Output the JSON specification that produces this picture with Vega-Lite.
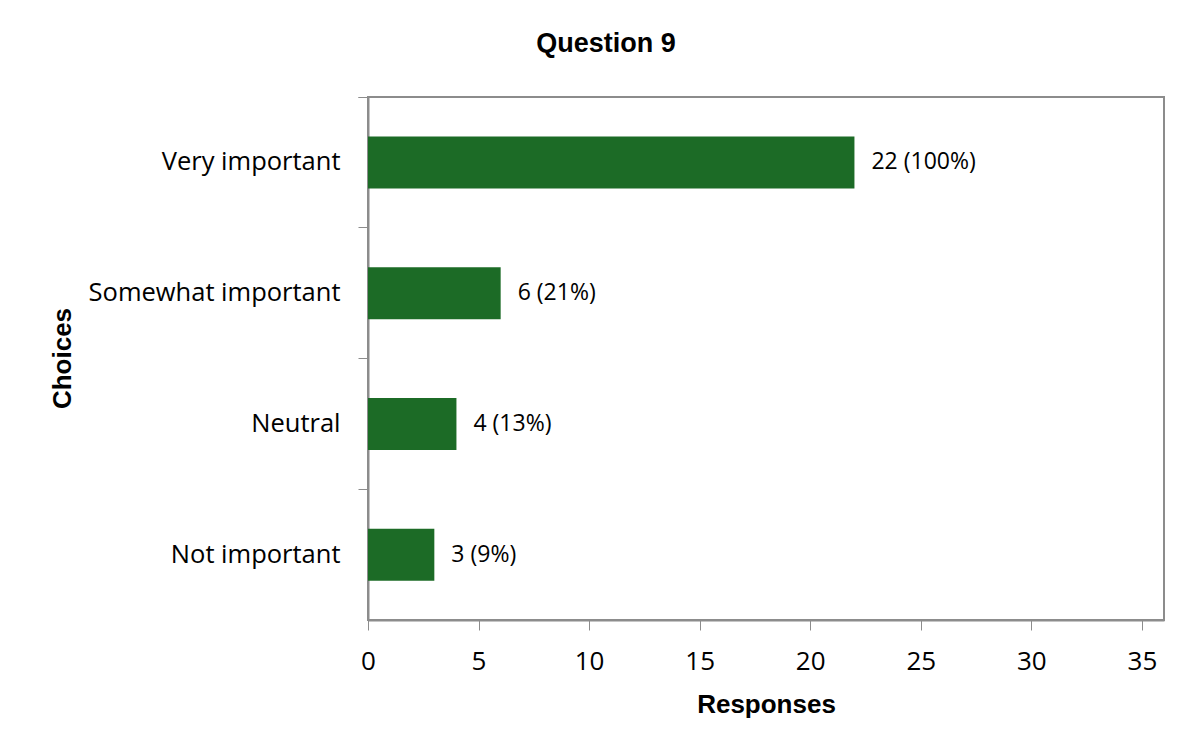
{
  "$schema": "https://vega.github.io/schema/vega-lite/v6.json",
  "width": 796,
  "height": 523,
  "autosize": {"type": "none"},
  "padding": {"left": 368, "top": 97, "right": 37, "bottom": 128},
  "background": "white",
  "title": {
    "text": "Question 9",
    "font": "Liberation Sans",
    "fontSize": 27,
    "fontWeight": "bold",
    "color": "#000000",
    "anchor": "middle",
    "frame": "group",
    "dx": -160,
    "offset": 27
  },
  "config": {
    "view": {"stroke": "#8c8c8c", "strokeWidth": 2},
    "axis": {"grid": false}
  },
  "data": {
    "values": [
      {"choice": "Very important", "responses": 22, "label": "22 (100%)"},
      {"choice": "Somewhat important", "responses": 6, "label": "6 (21%)"},
      {"choice": "Neutral", "responses": 4, "label": "4 (13%)"},
      {"choice": "Not important", "responses": 3, "label": "3 (9%)"}
    ]
  },
  "encoding": {
    "y": {
      "field": "choice",
      "type": "nominal",
      "sort": null,
      "scale": {"paddingInner": 0, "paddingOuter": 0},
      "axis": {
        "title": "Choices",
        "titleFont": "Liberation Sans",
        "titleFontSize": 26,
        "titleFontWeight": "bold",
        "titleColor": "#000000",
        "titleX": -306,
        "titleY": 261,
        "titleAngle": 270,
        "titleAlign": "center",
        "titleBaseline": "middle",
        "labelFont": "Open Sans",
        "labelFontSize": 25.5,
        "labelColor": "#000000",
        "labelPadding": 18,
        "labelLimit": 400,
        "bandPosition": 0,
        "tickExtra": true,
        "tickSize": 10,
        "tickColor": "#8c8c8c",
        "tickWidth": 1,
        "domainColor": "#8c8c8c",
        "domainWidth": 2
      }
    },
    "x": {
      "field": "responses",
      "type": "quantitative",
      "scale": {"domain": [0, 36], "nice": false},
      "axis": {
        "title": "Responses",
        "titleFont": "Liberation Sans",
        "titleFontSize": 26,
        "titleFontWeight": "bold",
        "titleColor": "#000000",
        "titlePadding": 17,
        "values": [0, 5, 10, 15, 20, 25, 30, 35],
        "labelFont": "Open Sans",
        "labelFontSize": 26,
        "labelColor": "#000000",
        "labelPadding": 18,
        "labelFlush": false,
        "tickSize": 10,
        "tickColor": "#8c8c8c",
        "tickWidth": 1,
        "domainColor": "#8c8c8c",
        "domainWidth": 2
      }
    }
  },
  "layer": [
    {
      "mark": {"type": "bar", "color": "#1c6b26", "size": 52}
    },
    {
      "mark": {
        "type": "text",
        "align": "left",
        "baseline": "middle",
        "dx": 17,
        "font": "Open Sans",
        "fontSize": 23,
        "color": "#000000"
      },
      "encoding": {"text": {"field": "label"}}
    }
  ]
}
